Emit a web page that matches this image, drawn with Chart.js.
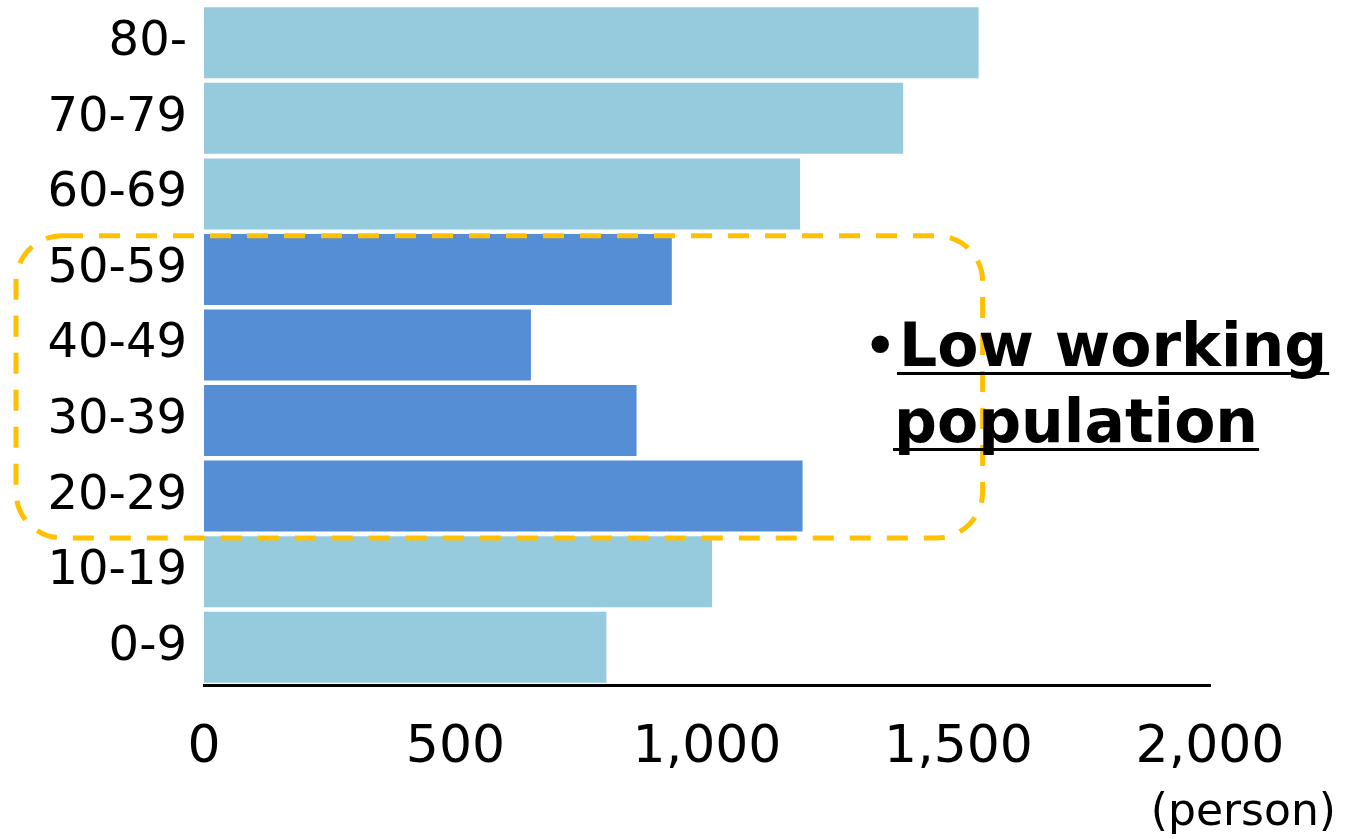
<!DOCTYPE html>
<html>
<head>
<meta charset="utf-8">
<title>Population by age group</title>
<script src="https://cdn.jsdelivr.net/npm/chart.js@4.4.1/dist/chart.umd.min.js"></script>
<style>
    html, body { margin: 0; padding: 0; background: #fff; }
    #wrap { width: 1345px; height: 839px; position: relative; }
</style>
</head>
<body>
<div id="wrap"><canvas id="popChart"></canvas></div>
<script>
// age groups, top to bottom
const ageGroups = ['80-', '70-79', '60-69', '50-59', '40-49', '30-39', '20-29', '10-19', '0-9'];
// persons per age group
const persons = [1540, 1390, 1185, 930, 650, 860, 1190, 1010, 800];
// working-age groups are highlighted
const workingAge = ['50-59', '40-49', '30-39', '20-29'];
const xTicks = [0, 500, 1000, 1500, 2000];

const lightBlue = '#95cbdc';
const darkBlue = '#558ed5';
const boxColor = '#ffc000';

const barColors = ageGroups.map(g => workingAge.includes(g) ? darkBlue : lightBlue);

// dashed box + note + unit label
const notePlugin = {
    id: 'note',
    afterDraw(chart) {
        const ctx = chart.ctx;
        const x = chart.scales.x;
        const y = chart.scales.y;

        const first = ageGroups.indexOf(workingAge[0]);
        const last = ageGroups.indexOf(workingAge[workingAge.length - 1]);
        // box sits a little below the band edges, like the original
        const top = (y.getPixelForValue(first - 1) + y.getPixelForValue(first)) / 2 + 4;
        const bottom = (y.getPixelForValue(last) + y.getPixelForValue(last + 1)) / 2 + 4;
        const left = 16;
        const right = x.getPixelForValue(1548);
        const r = 46;

        ctx.save();
        ctx.strokeStyle = boxColor;
        ctx.lineWidth = 5;
        ctx.setLineDash([21, 16]);
        ctx.beginPath();
        ctx.roundRect(left, top, right - left, bottom - top, r);
        ctx.stroke();
        ctx.setLineDash([]);

        // note text
        ctx.fillStyle = '#000';
        ctx.textBaseline = 'alphabetic';
        ctx.font = '60px "DejaVu Sans"';
        ctx.textAlign = 'right';
        ctx.fillText('•', 898, 367);

        ctx.textAlign = 'left';
        ctx.font = 'bold 60px "DejaVu Sans"';
        const line1 = 'Low working';
        const line2 = 'population';
        ctx.fillText(line1, 899, 366);
        ctx.fillText(line2, 894, 442);
        const w1 = ctx.measureText(line1).width;
        const w2 = ctx.measureText(line2).width;
        ctx.fillRect(897, 372, w1 + 4, 3);
        ctx.fillRect(893, 448, w2 + 2, 3);

        // unit
        ctx.font = '44px "DejaVu Sans"';
        ctx.textAlign = 'right';
        ctx.fillText('(person)', 1336, 825);
        ctx.restore();
    }
};

new Chart(document.getElementById('popChart'), {
    type: 'bar',
    data: {
        labels: ageGroups,
        datasets: [{
            data: persons,
            backgroundColor: barColors,
            borderWidth: 0,
            barPercentage: 0.94,
            categoryPercentage: 1.0
        }]
    },
    options: {
        indexAxis: 'y',
        responsive: true,
        maintainAspectRatio: false,
        animation: false,
        events: [],
        layout: { padding: { top: 5, right: 135, left: 0, bottom: 0 } },
        plugins: {
            legend: { display: false },
            tooltip: { enabled: false }
        },
        scales: {
            x: {
                min: 0,
                max: 2000,
                afterBuildTicks: axis => { axis.ticks = xTicks.map(v => ({ value: v })); },
                afterFit: axis => { axis.height = 154; },
                grid: { display: false, drawTicks: false },
                border: { display: true, color: '#000', width: 3 },
                ticks: {
                    padding: 32,
                    color: '#000',
                    font: { family: '"DejaVu Sans"', size: 52 },
                    callback: v => v.toLocaleString('en-US')
                }
            },
            y: {
                afterFit: axis => {
                    axis.width = 204;
                    axis.paddingTop = 0;
                    axis.paddingBottom = 0;
                },
                grid: { display: false, drawTicks: false },
                border: { display: false },
                ticks: {
                    padding: 17,
                    color: '#000',
                    font: { family: '"DejaVu Sans"', size: 48 }
                }
            }
        }
    },
    plugins: [notePlugin]
});
</script>
</body>
</html>
